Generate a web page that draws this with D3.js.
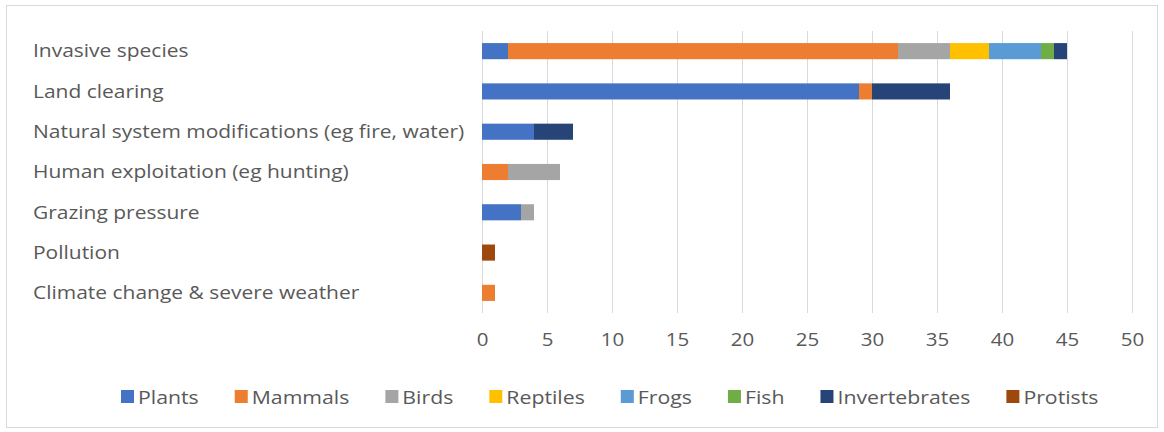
<!DOCTYPE html>
<html>
<head>
<meta charset="utf-8">
<script src="https://cdn.jsdelivr.net/npm/d3@7"></script>
<style>
  body { margin: 0; background: #fff; }
  text { font-family: "Open Sans", sans-serif; fill: #595959; }
</style>
</head>
<body>
<svg id="chart"></svg>
<script>
// threats (top to bottom)
const categories = [
  "Invasive species",
  "Land clearing",
  "Natural system modifications (eg fire, water)",
  "Human exploitation (eg hunting)",
  "Grazing pressure",
  "Pollution",
  "Climate change & severe weather"
];

const seriesNames = ["Plants", "Mammals", "Birds", "Reptiles", "Frogs", "Fish", "Invertebrates", "Protists"];
const seriesColors = ["#4472C4", "#ED7D31", "#A5A5A5", "#FFC000", "#5B9BD5", "#70AD47", "#264478", "#9E480E"];

// values per series, in category order
const plants        = [2, 29, 4, 0, 3, 0, 0];
const mammals       = [30, 1, 0, 2, 0, 0, 1];
const birds         = [4, 0, 0, 4, 1, 0, 0];
const reptiles      = [3, 0, 0, 0, 0, 0, 0];
const frogs         = [4, 0, 0, 0, 0, 0, 0];
const fish          = [1, 0, 0, 0, 0, 0, 0];
const invertebrates = [1, 6, 3, 0, 0, 0, 0];
const protists      = [0, 0, 0, 0, 0, 1, 0];

const xTicks = [0, 5, 10, 15, 20, 25, 30, 35, 40, 45, 50];

const width = 1164, height = 432;
const svg = d3.select("#chart").attr("width", width).attr("height", height);

// outer frame
svg.append("rect")
  .attr("x", 6.5).attr("y", 5.5)
  .attr("width", 1151).attr("height", 422)
  .attr("fill", "#fff").attr("stroke", "#d9d9d9");

const allSeries = [plants, mammals, birds, reptiles, frogs, fish, invertebrates, protists];
const rows = categories.map((c, i) => {
  const r = { cat: c };
  seriesNames.forEach((s, j) => r[s] = allSeries[j][i]);
  return r;
});

const stacked = d3.stack().keys(seriesNames)(rows);

const x = d3.scaleLinear().domain([0, 50]).range([482, 1132]);
const y = d3.scaleBand().domain(categories).range([31, 313]).paddingInner(0.6).paddingOuter(0.3);

// gridlines
svg.append("g")
  .selectAll("line")
  .data(xTicks)
  .join("line")
  .attr("x1", d => Math.round(x(d)) + 0.5)
  .attr("x2", d => Math.round(x(d)) + 0.5)
  .attr("y1", 31).attr("y2", 313)
  .attr("stroke", "#d9d9d9");

// bars
svg.append("g")
  .selectAll("g")
  .data(stacked)
  .join("g")
  .attr("fill", (d, i) => seriesColors[i])
  .selectAll("rect")
  .data(d => d)
  .join("rect")
  .attr("x", d => x(d[0]))
  .attr("y", d => y(d.data.cat))
  .attr("width", d => x(d[1]) - x(d[0]))
  .attr("height", y.bandwidth());

// x axis labels
const xAxis = svg.append("g")
  .attr("transform", "translate(0,333)")
  .call(d3.axisBottom(x).tickValues(xTicks).tickSize(0).tickPadding(0));
xAxis.select(".domain").remove();
xAxis.selectAll("text").attr("font-size", 18).attr("dy", "0.71em")
  .attr("transform", "scale(1.14,1)")
  .style("font-family", "Open Sans, sans-serif").attr("fill", "#595959");

// category labels
svg.append("g")
  .selectAll("text")
  .data(categories)
  .join("text")
  .attr("transform", d => `translate(33,${y(d) + y.bandwidth() / 2}) scale(1.165,1)`)
  .attr("dy", "0.35em")
  .attr("font-size", 18)
  .text(d => d);

// legend
const legScale = 1.12;
const legend = svg.append("g").attr("transform", "translate(0,397)");
const items = legend.selectAll("g")
  .data(seriesNames)
  .join("g");
items.append("rect")
  .attr("width", 13).attr("height", 13).attr("y", -7)
  .attr("fill", (d, i) => seriesColors[i]);
items.append("text")
  .attr("transform", `translate(17,0) scale(${legScale},1)`)
  .attr("dy", "0.35em")
  .attr("font-size", 19)
  .text(d => d);

const tw = [];
items.select("text").each(function () { tw.push(17 + this.getBBox().width * legScale); });
const gap = 36;
let cx = 121;
items.attr("transform", (d, i) => {
  const t = `translate(${cx},0)`;
  cx += tw[i] + gap;
  return t;
});
</script>
</body>
</html>
